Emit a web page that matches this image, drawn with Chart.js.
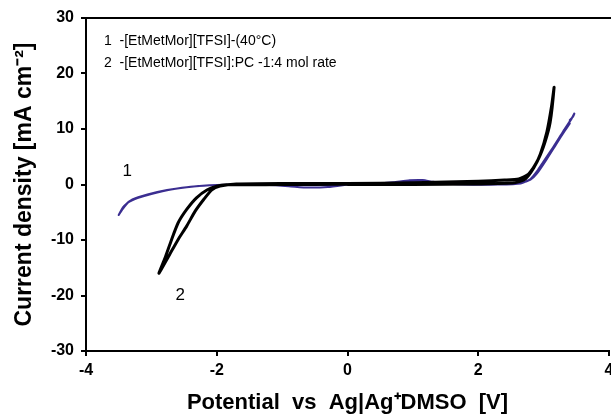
<!DOCTYPE html>
<html lang="en">
<head>
  <meta charset="UTF-8" />
  <title>Cyclic voltammograms</title>
  <script src="https://cdn.jsdelivr.net/npm/chart.js"></script>
  <style>
    html, body { margin: 0; padding: 0; background: #fff; }
    canvas { display: block; }
  </style>
</head>
<body>
  <canvas id="cvChart" width="611" height="415"></canvas>

  <script>
    // curve 1: [EtMetMor][TFSI] at 40 C (blue)
    const ilPotential = [0.0, -0.3, -0.6, -0.9, -1.2, -1.6, -2.0, -2.4, -2.76, -3.06, -3.29, -3.42, -3.5,
      -3.45, -3.35, -3.2, -3.0, -2.7, -2.35, -2.0, -1.5, -1.0, -0.5, 0.0, 0.4, 0.7, 0.95, 1.15, 1.3, 1.5,
      2.0, 2.4, 2.65, 2.8, 2.9, 3.05, 3.2, 3.32, 3.4, 3.37, 3.43, 3.47,
      3.45, 3.4, 3.44, 3.3, 3.15, 3.0, 2.9, 2.8, 2.65, 2.3, 1.8, 1.2, 1.0, 0.8, 0.5, 0.0];
    const ilCurrent = [0.0, -0.45, -0.55, -0.3, -0.1, -0.05, -0.1, -0.4, -1.0, -1.8, -2.7, -3.9, -5.5,
      -4.6, -3.2, -2.4, -1.7, -0.9, -0.35, -0.1, 0.05, 0.0, -0.1, 0.0, 0.1, 0.4, 0.75, 0.8, 0.5, 0.2,
      0.15, 0.2, 0.35, 0.9, 2.0, 4.6, 7.4, 9.6, 11.0, 10.7, 11.9, 12.8,
      12.2, 11.6, 12.1, 9.6, 6.8, 4.2, 2.4, 1.0, 0.2, 0.0, 0.0, 0.3, 0.5, 0.3, 0.0, -0.1];

    // curve 2: [EtMetMor][TFSI]:PC 1:4 mol rate (black)
    const pcPotential = [0.0, -0.5, -1.0, -1.5, -1.85, -2.0, -2.15, -2.31, -2.46, -2.59, -2.69, -2.79, -2.884,
      -2.72, -2.59, -2.46, -2.33, -2.2, -2.08, -1.95, -1.7, -1.0, 0.0, 1.0, 2.0, 2.4, 2.62, 2.77, 2.92, 3.02, 3.1, 3.16,
      3.12, 3.05, 2.95, 2.85, 2.72, 2.55, 2.0, 1.0, 0.0];
    const pcCurrent = [0.1, 0.0, 0.0, -0.05, -0.05, -0.3, -1.0, -2.4, -4.5, -6.9, -9.9, -13.2, -16.0,
      -12.6, -9.9, -7.5, -4.8, -2.7, -1.0, -0.3, 0.1, 0.2, 0.2, 0.3, 0.6, 0.8, 1.0, 1.9, 4.6, 7.6, 11.2, 17.5,
      14.0, 9.5, 5.5, 3.0, 1.0, 0.3, 0.1, 0.0, 0.0];

    const xTicks = [-4, -2, 0, 2, 4];
    const yTicks = [-30, -20, -10, 0, 10, 20, 30];
    const legendLines = ['1  -[EtMetMor][TFSI]-(40°C)', '2  -[EtMetMor][TFSI]:PC -1:4 mol rate'];
    const curveLabels = ['1', '2'];
    const curveLabelX = [-3.37, -2.56];
    const curveLabelY = [2.3, -20];
    const xTitle = 'Potential  vs  Ag|Ag⁺DMSO  [V]';
    const yTitle = 'Current density [mA cm⁻²]';

    const toPoints = (xs, ys) => xs.map((x, i) => ({ x: x, y: ys[i] }));

    const fontFamily = '"Liberation Sans", Arial, Helvetica, sans-serif';

    const annotate = {
      id: 'annotate',
      afterDraw(chart) {
        const { ctx, chartArea: a, scales } = chart;
        ctx.save();
        // top frame line
        ctx.strokeStyle = '#000';
        ctx.lineWidth = 2;
        ctx.beginPath();
        ctx.moveTo(a.left - 1, a.top);
        ctx.lineTo(chart.width, a.top);
        ctx.stroke();

        ctx.fillStyle = '#000';
        ctx.font = '14px ' + fontFamily;
        ctx.textBaseline = 'middle';
        ctx.textAlign = 'left';
        legendLines.forEach((t, i) => ctx.fillText(t, a.left + 18, a.top + 23 + i * 22));

        ctx.font = '17px ' + fontFamily;
        ctx.textAlign = 'center';
        curveLabels.forEach((t, i) => {
          ctx.fillText(t, scales.x.getPixelForValue(curveLabelX[i]), scales.y.getPixelForValue(curveLabelY[i]));
        });
        ctx.restore();
      }
    };

    const tickFont = { family: fontFamily, size: 16, weight: 'bold' };

    new Chart(document.getElementById('cvChart'), {
      type: 'scatter',
      data: {
        datasets: [
          {
            label: legendLines[1],
            data: toPoints(pcPotential, pcCurrent),
            showLine: true,
            borderColor: '#000000',
            borderWidth: 3,
            pointRadius: 0,
            tension: 0.2,
            order: 0
          },
          {
            label: legendLines[0],
            data: toPoints(ilPotential, ilCurrent),
            showLine: true,
            borderColor: '#3b2e91',
            borderWidth: 2,
            pointRadius: 0,
            tension: 0.2,
            order: 1
          }
        ]
      },
      options: {
        responsive: false,
        animation: false,
        layout: { padding: { top: 18, right: 2, left: 0, bottom: 0 } },
        plugins: {
          legend: { display: false },
          tooltip: { enabled: false }
        },
        scales: {
          x: {
            type: 'linear',
            min: xTicks[0],
            max: xTicks[xTicks.length - 1],
            afterBuildTicks: s => { s.ticks = xTicks.map(v => ({ value: v })); },
            ticks: { font: tickFont, color: '#000', padding: 5, maxRotation: 0, autoSkip: false },
            grid: { drawOnChartArea: false, tickLength: 5, color: '#000', lineWidth: 2 },
            border: { color: '#000', width: 2 },
            title: {
              display: true, text: xTitle, color: '#000',
              font: { family: fontFamily, size: 22, weight: 'bold', lineHeight: 1 },
              padding: { top: 0, bottom: 1 }
            },
            afterFit: s => { s.height = 64; s.paddingLeft = 0; s.paddingRight = 0; s.paddingTop = 0; s.paddingBottom = 0; }
          },
          y: {
            type: 'linear',
            min: yTicks[0],
            max: yTicks[yTicks.length - 1],
            afterBuildTicks: s => { s.ticks = yTicks.map(v => ({ value: v })); },
            ticks: { font: tickFont, color: '#000', padding: 7, autoSkip: false },
            grid: { drawOnChartArea: false, tickLength: 5, color: '#000', lineWidth: 2 },
            border: { color: '#000', width: 2 },
            title: {
              display: true, text: yTitle, color: '#000',
              font: { family: fontFamily, size: 23, weight: 'bold', lineHeight: 1 },
              padding: { top: 13, bottom: 0 }
            },
            afterFit: s => { s.width = 86; s.paddingLeft = 0; s.paddingRight = 0; s.paddingTop = 0; s.paddingBottom = 0; }
          }
        }
      },
      plugins: [annotate]
    });
  </script>
</body>
</html>
